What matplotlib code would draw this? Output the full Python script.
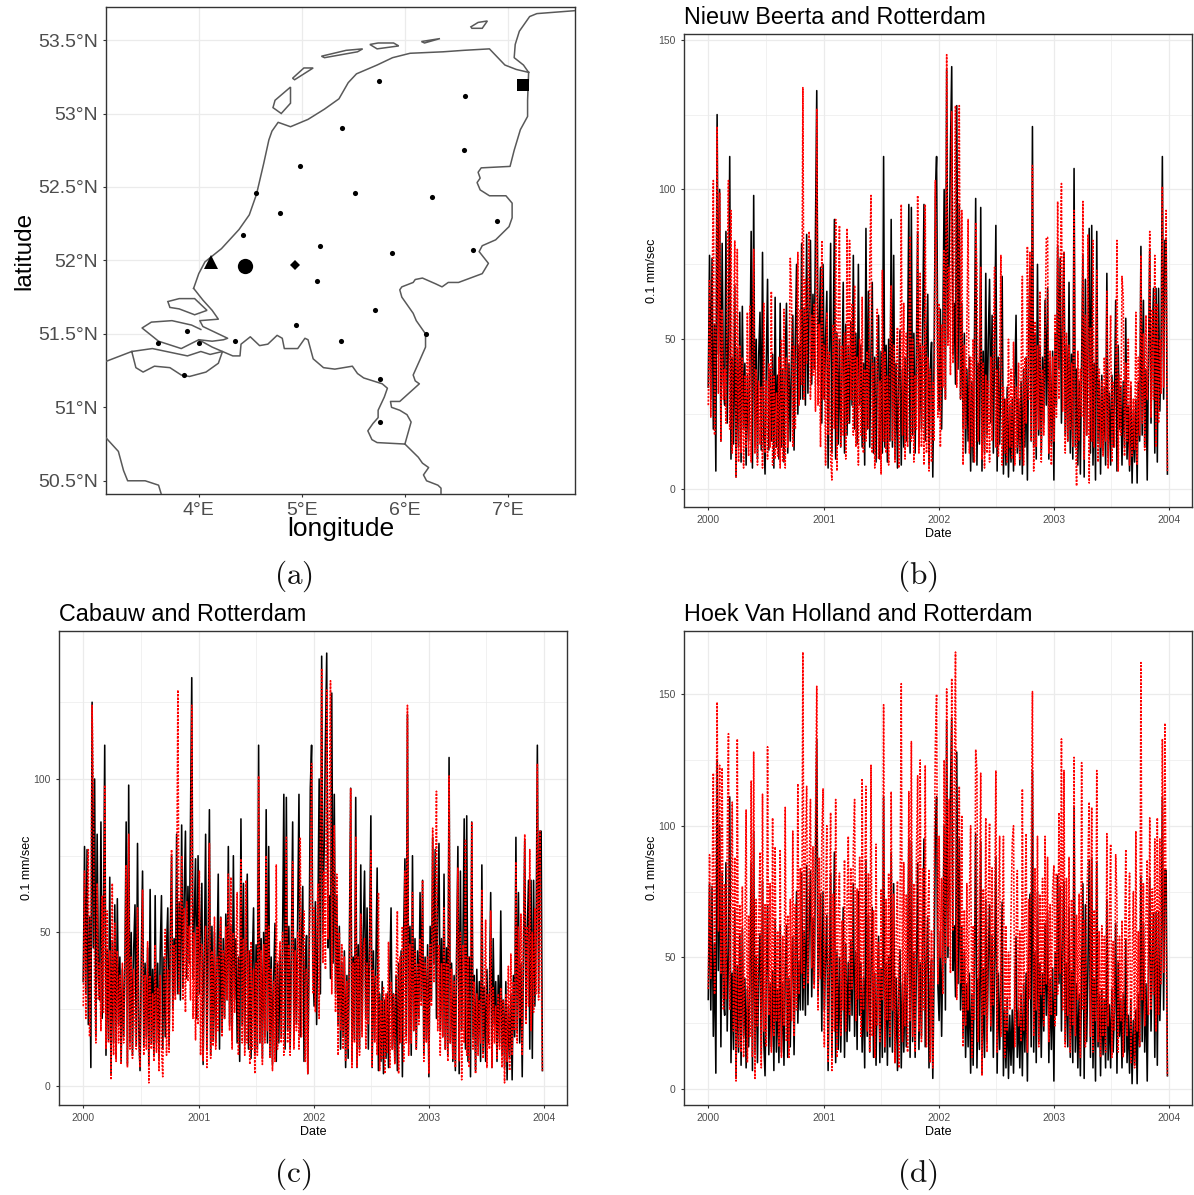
import matplotlib
matplotlib.use('Agg')
import matplotlib.dates as mdates
import matplotlib.pyplot as plt
import pandas as pd

plt.rcParams['font.family'] = ['Liberation Sans', 'DejaVu Sans']
plt.rcParams['mathtext.fontset'] = 'cm'

FIG_W, FIG_H = 1194, 1195

# map outlines, lon / lat
german_coast_lon = [7.65, 7.28, 7.21, 7.11, 7.07, 7.06, 7.15, 7.20]
german_coast_lat = [53.70, 53.68, 53.66, 53.56, 53.47, 53.38, 53.33, 53.28]
west_coast_lon = [3.95, 4.00, 4.06, 4.22, 4.39, 4.49, 4.56, 4.63, 4.68, 4.71, 4.77, 4.89, 5.06, 5.22,
                  5.36, 5.45, 5.53, 5.73, 5.88, 6.05, 6.37, 6.57, 6.82, 6.97, 7.08, 7.20]
west_coast_lat = [51.81, 51.91, 51.99, 52.08, 52.21, 52.31, 52.45, 52.66, 52.82, 52.88, 52.94, 52.91, 52.96, 53.03,
                  53.10, 53.21, 53.27, 53.33, 53.38, 53.41, 53.42, 53.43, 53.44, 53.33, 53.30, 53.28]
east_border_lon = [7.20, 7.19, 7.19, 7.12, 7.06, 7.02, 6.74, 6.71, 6.73, 6.70, 6.73, 6.82, 6.98, 7.04, 7.04, 7.01,
                   6.88, 6.75, 6.72, 6.81, 6.75, 6.52, 6.42, 6.36, 6.30, 6.17, 6.10, 6.08, 5.97, 5.95, 5.97, 6.08,
                   6.11, 6.20, 6.20, 6.15, 6.08, 6.10, 6.14, 5.95, 5.86, 5.87, 5.95, 6.02, 6.06, 6.00]
east_border_lat = [53.28, 53.09, 52.98, 52.89, 52.75, 52.64, 52.63, 52.60, 52.56, 52.53, 52.48, 52.44, 52.44, 52.39,
                   52.29, 52.23, 52.14, 52.10, 52.06, 51.98, 51.91, 51.85, 51.85, 51.82, 51.84, 51.88, 51.87, 51.85,
                   51.82, 51.80, 51.75, 51.64, 51.59, 51.50, 51.41, 51.33, 51.22, 51.18, 51.16, 51.04, 51.04, 51.00,
                   50.98, 50.95, 50.90, 50.75]
de_be_border_lon = [6.00, 6.13, 6.17, 6.23, 6.18, 6.21, 6.32, 6.35, 6.35]
de_be_border_lat = [50.75, 50.66, 50.62, 50.59, 50.54, 50.50, 50.47, 50.45, 50.40]
south_border_lon = [6.00, 5.73, 5.68, 5.64, 5.69, 5.74, 5.74, 5.80, 5.83, 5.78, 5.60, 5.54, 5.49, 5.32, 5.21, 5.11,
                    5.06, 5.03, 4.96, 4.83, 4.81, 4.76, 4.67, 4.59, 4.50, 4.41, 4.40, 4.33, 4.23, 4.13, 4.00, 3.83,
                    3.61, 3.45, 3.54, 3.74, 3.93, 4.02]
south_border_lat = [50.75, 50.76, 50.78, 50.84, 50.89, 50.93, 50.98, 51.07, 51.13, 51.16, 51.20, 51.23, 51.28, 51.26,
                    51.27, 51.33, 51.46, 51.47, 51.40, 51.40, 51.47, 51.49, 51.43, 51.42, 51.48, 51.43, 51.35, 51.35,
                    51.38, 51.41, 51.46, 51.40, 51.45, 51.54, 51.58, 51.59, 51.56, 51.53]
delta_lon = [3.95, 4.04, 4.13, 4.19, 4.01, 4.04, 4.28, 4.24, 4.13, 4.00]
delta_lat = [51.81, 51.73, 51.66, 51.60, 51.59, 51.55, 51.47, 51.46, 51.45, 51.46]
scheldt_lon = [3.09, 3.35, 3.55, 3.89, 4.02, 4.11, 4.23, 4.19, 4.07, 3.91, 3.83, 3.72, 3.57, 3.46, 3.39, 3.35]
scheldt_lat = [51.31, 51.38, 51.40, 51.35, 51.38, 51.36, 51.38, 51.30, 51.24, 51.21, 51.22, 51.27, 51.28, 51.24,
               51.27, 51.38]
france_lon = [3.09, 3.22, 3.27, 3.31, 3.48, 3.61, 3.64]
france_lat = [50.80, 50.70, 50.57, 50.50, 50.50, 50.47, 50.40]
zeeland_lon = [3.45, 3.54, 3.74, 3.93, 4.02, 4.28, 4.24, 4.13, 4.00, 3.83, 3.61]
zeeland_lat = [51.54, 51.58, 51.59, 51.56, 51.53, 51.47, 51.46, 51.45, 51.46, 51.40, 51.45]

island_lons = [
    [3.70, 3.81, 3.96, 4.08, 3.96, 3.81, 3.72, 3.70],
    [4.89, 4.74, 4.72, 4.80, 4.89, 4.89],
    [4.91, 5.02, 5.11, 4.93, 4.91],
    [5.19, 5.43, 5.59, 5.54, 5.22, 5.19],
    [5.66, 5.74, 5.89, 5.94, 5.73, 5.66],
    [6.16, 6.34, 6.19, 6.16],
    [6.64, 6.71, 6.80, 6.75, 6.65, 6.64],
]
island_lats = [
    [51.72, 51.74, 51.74, 51.66, 51.63, 51.67, 51.68, 51.72],
    [53.18, 53.09, 53.04, 53.00, 53.07, 53.18],
    [53.24, 53.31, 53.31, 53.23, 53.24],
    [53.39, 53.43, 53.44, 53.42, 53.38, 53.39],
    [53.47, 53.48, 53.48, 53.46, 53.44, 53.47],
    [53.49, 53.51, 53.48, 53.49],
    [53.59, 53.62, 53.63, 53.58, 53.58, 53.59],
]

station_lon = [5.75, 6.58, 5.39, 6.57, 4.98, 4.56, 5.52, 6.26, 4.79, 6.89, 4.43, 5.18, 5.87, 6.66, 5.15,
               5.71, 4.94, 3.89, 3.60, 4.00, 4.35, 5.38, 6.20, 5.76, 3.86, 5.76]
station_lat = [53.22, 53.12, 52.90, 52.75, 52.64, 52.46, 52.46, 52.43, 52.32, 52.27, 52.17, 52.10, 52.05, 52.07, 51.86,
               51.66, 51.56, 51.52, 51.44, 51.44, 51.45, 51.45, 51.50, 51.19, 51.22, 50.90]
hoek_lonlat = (4.12, 51.99)
rotterdam_lonlat = (4.45, 51.96)
cabauw_lonlat = (4.93, 51.97)
beerta_lonlat = (7.15, 53.195)

lon_ticks = [4, 5, 6, 7]
lon_labels = ['4°E', '5°E', '6°E', '7°E']
lat_ticks = [50.5, 51, 51.5, 52, 52.5, 53, 53.5]
lat_labels = ['50.5°N', '51°N', '51.5°N', '52°N', '52.5°N', '53°N', '53.5°N']

# wind speed read every four days, 0.1 mm/sec
rotterdam = [
    34, 78, 30, 77, 20, 55, 6, 125, 45, 100, 16, 82, 35,
    28, 86, 22, 52, 111, 10, 44, 15, 68, 4, 47, 14, 59,
    9, 61, 20, 42, 8, 38, 16, 40, 86, 7, 98, 14, 50,
    10, 45, 59, 13, 79, 18, 5, 42, 70, 13, 40, 16, 45,
    7, 64, 14, 38, 10, 62, 14, 40, 9, 44, 62, 12, 42,
    16, 45, 58, 13, 50, 75, 25, 48, 30, 82, 30, 60, 28,
    85, 32, 62, 83, 35, 65, 40, 88, 133, 35, 55, 74, 22,
    75, 30, 50, 66, 7, 44, 82, 12, 48, 90, 10, 52, 15,
    50, 14, 40, 69, 12, 55, 18, 48, 22, 56, 28, 78, 20,
    52, 15, 75, 28, 48, 14, 42, 8, 87, 20, 66, 14, 45,
    69, 12, 44, 9, 40, 58, 10, 46, 12, 111, 14, 48, 9,
    50, 16, 90, 14, 78, 10, 42, 7, 36, 53, 8, 40, 14,
    44, 16, 48, 95, 12, 94, 18, 52, 12, 46, 86, 15, 48,
    20, 55, 95, 16, 48, 65, 8, 40, 49, 4, 44, 97, 111,
    40, 26, 60, 20, 55, 100, 30, 140, 50, 78, 113, 141, 45,
    62, 35, 128, 40, 95, 30, 62, 20, 52, 12, 40, 16, 44,
    6, 36, 9, 48, 97, 8, 42, 15, 94, 6, 46, 12, 72,
    18, 50, 70, 22, 58, 12, 48, 88, 6, 44, 15, 40, 71,
    5, 30, 8, 34, 4, 28, 9, 30, 6, 36, 58, 12, 30,
    8, 36, 5, 40, 14, 44, 3, 50, 74, 16, 121, 14, 52,
    10, 75, 18, 48, 12, 44, 22, 63, 28, 67, 10, 42, 15,
    46, 3, 52, 28, 81, 40, 77, 22, 58, 79, 18, 48, 16,
    69, 12, 45, 10, 107, 14, 40, 8, 36, 5, 44, 78, 4,
    70, 18, 46, 87, 12, 88, 8, 42, 3, 86, 16, 36, 5,
    38, 13, 34, 8, 72, 11, 32, 8, 38, 14, 30, 63, 6,
    48, 20, 34, 8, 36, 14, 57, 10, 28, 6, 34, 2, 26,
    9, 30, 2, 36, 16, 81, 18, 63, 14, 40, 3, 44, 80,
    22, 50, 67, 12, 67, 9, 67, 26, 48, 111, 30, 83, 83, 5,
]
nieuw_beerta = [
    28, 70, 24, 62, 103, 18, 50, 121, 32, 99, 16, 60, 30,
    40, 22, 68, 103, 20, 93, 12, 55, 83, 4, 80, 9, 48,
    12, 44, 7, 38, 14, 59, 11, 61, 9, 44, 80, 12, 40,
    8, 36, 15, 34, 7, 62, 12, 36, 10, 42, 14, 66, 8,
    38, 10, 32, 11, 44, 7, 50, 9, 60, 7, 44, 14, 38,
    77, 65, 14, 48, 20, 46, 79, 28, 60, 35, 134, 30, 70,
    42, 66, 86, 30, 58, 38, 62, 26, 127, 28, 55, 14, 83,
    30, 48, 8, 59, 18, 46, 10, 3, 55, 20, 90, 6, 60,
    88, 14, 48, 18, 52, 10, 87, 22, 83, 30, 62, 18, 68,
    14, 44, 8, 50, 18, 64, 12, 40, 16, 46, 20, 75, 98,
    12, 42, 7, 38, 60, 10, 36, 5, 73, 16, 46, 12, 38,
    8, 44, 68, 16, 48, 9, 40, 54, 7, 36, 95, 18, 62,
    10, 52, 14, 44, 84, 16, 50, 9, 38, 20, 98, 12, 72,
    14, 48, 8, 95, 12, 44, 6, 40, 9, 36, 16, 103, 73,
    24, 62, 14, 55, 34, 80, 30, 145, 48, 74, 38, 126, 42,
    88, 128, 34, 70, 128, 30, 93, 8, 48, 20, 54, 90, 12,
    44, 14, 50, 9, 89, 73, 16, 48, 74, 10, 42, 7, 38,
    12, 36, 9, 44, 16, 50, 74, 14, 40, 11, 46, 78, 8,
    34, 12, 30, 9, 50, 14, 40, 10, 49, 8, 34, 14, 42,
    10, 38, 71, 8, 44, 22, 81, 30, 79, 16, 108, 6, 56,
    14, 48, 20, 66, 9, 40, 18, 50, 84, 84, 12, 46, 8,
    44, 16, 58, 24, 96, 30, 70, 102, 26, 79, 12, 52, 16,
    48, 20, 42, 14, 93, 22, 1, 46, 16, 40, 24, 96, 10,
    58, 18, 85, 2, 54, 16, 83, 14, 44, 73, 9, 40, 14,
    36, 11, 44, 16, 66, 7, 40, 58, 9, 36, 14, 32, 83,
    6, 38, 18, 71, 64, 11, 42, 16, 50, 8, 36, 11, 30,
    13, 59, 8, 44, 18, 78, 22, 52, 13, 58, 30, 42, 86,
    24, 60, 30, 78, 14, 62, 22, 50, 32, 101, 34, 66, 93, 6,
]
cabauw = [
    26, 70, 22, 58, 77, 16, 42, 124, 94, 30, 14, 66, 28,
    40, 18, 62, 24, 98, 12, 57, 14, 44, 2, 66, 10, 53,
    8, 44, 14, 36, 7, 40, 14, 36, 72, 6, 82, 12, 42,
    9, 38, 20, 12, 58, 14, 6, 34, 64, 10, 36, 12, 47,
    1, 36, 12, 30, 8, 46, 11, 32, 5, 36, 12, 3, 34,
    51, 10, 38, 11, 42, 77, 18, 46, 28, 60, 129, 30, 56,
    75, 28, 58, 24, 60, 34, 52, 28, 124, 22, 50, 15, 52,
    20, 70, 10, 46, 8, 40, 52, 6, 36, 79, 9, 44, 13,
    55, 12, 42, 18, 48, 55, 16, 44, 22, 52, 28, 69, 18,
    68, 12, 50, 24, 44, 63, 10, 40, 74, 14, 48, 10, 67,
    14, 44, 7, 47, 12, 38, 4, 40, 10, 101, 14, 44, 7,
    46, 14, 75, 18, 52, 9, 38, 5, 34, 8, 72, 12, 40,
    47, 14, 50, 10, 44, 81, 14, 46, 10, 42, 73, 12, 44,
    18, 50, 12, 81, 16, 44, 57, 8, 38, 4, 40, 60, 105,
    30, 58, 24, 48, 66, 22, 80, 136, 40, 70, 38, 129, 48,
    90, 132, 30, 66, 85, 24, 69, 10, 50, 18, 46, 12, 42,
    8, 34, 12, 40, 97, 6, 40, 14, 81, 6, 42, 10, 56,
    16, 44, 48, 12, 40, 20, 42, 77, 6, 38, 14, 36, 10,
    63, 5, 28, 9, 32, 4, 30, 11, 47, 6, 34, 12, 30,
    7, 36, 57, 4, 42, 14, 52, 8, 70, 14, 124, 10, 46,
    14, 63, 18, 44, 12, 40, 20, 48, 26, 67, 8, 40, 14,
    42, 4, 46, 26, 84, 34, 52, 96, 18, 46, 10, 40, 16,
    58, 12, 40, 8, 101, 14, 38, 9, 34, 6, 42, 71, 8,
    50, 2, 46, 14, 80, 10, 42, 6, 36, 86, 12, 34, 4,
    30, 10, 28, 14, 64, 9, 28, 54, 6, 30, 12, 57, 6,
    32, 14, 26, 9, 30, 12, 32, 6, 28, 1, 30, 8, 39,
    5, 43, 10, 34, 18, 73, 14, 52, 22, 56, 10, 48, 82,
    20, 52, 26, 77, 18, 50, 24, 58, 30, 105, 28, 83, 42, 5,
]
hoek_van_holland = [
    38, 89, 42, 72, 120, 36, 85, 147, 60, 123, 44, 122, 30,
    78, 34, 95, 135, 30, 70, 109, 22, 88, 3, 133, 16, 70,
    14, 77, 12, 56, 106, 10, 66, 20, 117, 12, 128, 4, 72,
    24, 64, 90, 8, 112, 22, 70, 16, 130, 28, 78, 14, 103,
    20, 92, 26, 60, 16, 91, 12, 58, 24, 107, 18, 66, 12,
    72, 26, 98, 20, 70, 30, 116, 36, 84, 44, 166, 38, 92,
    115, 40, 84, 110, 46, 92, 38, 102, 153, 30, 88, 42, 96,
    114, 16, 72, 100, 10, 62, 105, 7, 74, 22, 110, 12, 68,
    82, 20, 64, 30, 87, 22, 70, 96, 28, 84, 38, 92, 110,
    26, 76, 34, 88, 20, 118, 30, 72, 115, 22, 82, 14, 123,
    20, 68, 12, 93, 24, 56, 18, 76, 34, 146, 16, 72, 26,
    82, 20, 113, 30, 74, 10, 60, 79, 8, 66, 154, 18, 86,
    24, 74, 14, 113, 26, 132, 20, 78, 14, 88, 119, 22, 125,
    18, 84, 30, 123, 16, 66, 83, 10, 60, 8, 76, 130, 150,
    40, 96, 50, 80, 36, 125, 48, 152, 54, 110, 44, 156, 60,
    112, 166, 34, 82, 115, 40, 104, 16, 68, 24, 78, 30, 72,
    100, 12, 62, 26, 129, 121, 18, 70, 120, 5, 76, 28, 103,
    14, 74, 101, 24, 84, 32, 66, 121, 14, 70, 96, 20, 60,
    96, 12, 62, 22, 52, 30, 66, 94, 100, 16, 58, 83, 24,
    60, 18, 114, 22, 66, 97, 14, 72, 34, 88, 151, 20, 84,
    30, 96, 16, 74, 36, 80, 24, 96, 40, 88, 18, 70, 28,
    76, 85, 24, 82, 36, 105, 44, 133, 30, 121, 16, 80, 28,
    88, 14, 72, 24, 126, 20, 66, 34, 74, 12, 124, 30, 64,
    16, 72, 87, 109, 20, 107, 14, 68, 26, 121, 18, 60, 12,
    62, 20, 58, 14, 97, 24, 64, 93, 12, 56, 22, 89, 71,
    14, 58, 26, 64, 12, 50, 91, 20, 54, 82, 10, 48, 75,
    8, 98, 22, 60, 16, 162, 34, 78, 24, 66, 87, 28, 103,
    30, 76, 36, 95, 22, 103, 28, 95, 40, 133, 44, 139, 60, 5,
]

dates = pd.date_range('2000-01-01', periods=len(rotterdam), freq='4D')


def add_axes_px(fig, left, top, right, bottom):
    return fig.add_axes([left / FIG_W, 1 - bottom / FIG_H,
                         (right - left) / FIG_W, (bottom - top) / FIG_H])


def style_axes(ax, tick_size):
    ax.set_facecolor('white')
    ax.set_axisbelow(True)
    for spine in ax.spines.values():
        spine.set_color('#333333')
        spine.set_linewidth(1.0)
    ax.tick_params(which='major', colors='#333333', labelcolor='#4D4D4D',
                   labelsize=tick_size, length=2.5, width=0.8)
    ax.tick_params(which='minor', length=0)
    ax.grid(True, which='major', color='#EBEBEB', linewidth=0.9)


def plot_series(fig, box, other, title, ylim, yticks, yminor):
    ax = add_axes_px(fig, *box)
    style_axes(ax, 7.5)
    ax.grid(True, which='minor', color='#EBEBEB', linewidth=0.5)
    ax.plot(dates, rotterdam, color='black', linewidth=1.15)
    ax.plot(dates, other, color='#FF0000', linewidth=1.15, linestyle=(0, (1.3, 0.9)))
    ax.set_xlim(pd.Timestamp('1999-10-16'), pd.Timestamp('2004-03-14'))
    ax.set_ylim(*ylim)
    ax.set_yticks(yticks)
    ax.set_yticks(yminor, minor=True)
    ax.xaxis.set_major_locator(mdates.YearLocator())
    ax.xaxis.set_major_formatter(mdates.DateFormatter('%Y'))
    ax.xaxis.set_minor_locator(mdates.MonthLocator(bymonth=[7]))
    ax.set_xlabel('Date', fontsize=9, labelpad=2)
    ax.set_ylabel('0.1 mm/sec', fontsize=9, labelpad=0.5)
    ax.set_title(title, loc='left', fontsize=16.8, pad=7)
    return ax


def plot_map(fig):
    ax = add_axes_px(fig, 106, 7, 575, 494)
    style_axes(ax, 14)
    xlim = (3.10, 7.65)
    ylim = (50.41, 53.725)

    # land is filled white so the grid only shows over the sea
    land_lon = (german_coast_lon + west_coast_lon[::-1] + delta_lon + [3.83, 3.61, 3.35, 3.09]
                + [3.0, 7.8, 7.8])
    land_lat = (german_coast_lat + west_coast_lat[::-1] + delta_lat + [51.40, 51.45, 51.38, 51.31]
                + [50.2, 50.2, 53.70])
    ax.fill(land_lon, land_lat, color='white', zorder=2)
    ax.fill(zeeland_lon, zeeland_lat, color='white', zorder=2)

    outlines = [
        (german_coast_lon, german_coast_lat),
        (west_coast_lon, west_coast_lat),
        (east_border_lon, east_border_lat),
        (de_be_border_lon, de_be_border_lat),
        (south_border_lon, south_border_lat),
        (delta_lon, delta_lat),
        (scheldt_lon, scheldt_lat),
        (france_lon, france_lat),
    ]
    for lon, lat in outlines:
        ax.plot(lon, lat, color='#595959', linewidth=1.1, zorder=3)
    for lon, lat in zip(island_lons, island_lats):
        ax.fill(lon, lat, facecolor='white', edgecolor='#595959', linewidth=1.1, zorder=3)

    ax.plot(station_lon, station_lat, 'o', color='black', markersize=3.7, markeredgewidth=0, zorder=4)
    ax.plot(*hoek_lonlat, '^', color='black', markersize=9.5, markeredgewidth=0, zorder=4)
    ax.plot(*rotterdam_lonlat, 'o', color='black', markersize=11, markeredgewidth=0, zorder=4)
    ax.plot(*cabauw_lonlat, 'D', color='black', markersize=5, markeredgewidth=0, zorder=4)
    ax.plot(*beerta_lonlat, 's', color='black', markersize=8, markeredgewidth=0, zorder=4)

    ax.set_xlim(*xlim)
    ax.set_ylim(*ylim)
    ax.set_xticks(lon_ticks, lon_labels)
    ax.set_yticks(lat_ticks, lat_labels)
    ax.set_xlabel('longitude', fontsize=19, labelpad=-1.5)
    ax.set_ylabel('latitude', fontsize=17.5, labelpad=2)
    return ax


def main():
    fig = plt.figure(figsize=(FIG_W / 100, FIG_H / 100), dpi=100)

    plot_map(fig)
    plot_series(fig, (684, 34, 1192, 507), nieuw_beerta, 'Nieuw Beerta and Rotterdam',
                (-6, 151.9), [0, 50, 100, 150], [25, 75, 125])
    plot_series(fig, (59, 631, 567, 1105), cabauw, 'Cabauw and Rotterdam',
                (-6.2, 148.2), [0, 50, 100], [25, 75, 125])
    plot_series(fig, (684, 631, 1192, 1105), hoek_van_holland, 'Hoek Van Holland and Rotterdam',
                (-6.1, 174), [0, 50, 100, 150], [25, 75, 125])

    for label, x, y in [('a', 293, 576), ('b', 917, 576), ('c', 293, 1174), ('d', 917, 1174)]:
        fig.text(x / FIG_W, 1 - y / FIG_H, rf'$\mathrm{{({label})}}$', fontsize=22.5,
                 ha='center', va='center', color='#111111')

    fig.savefig('out.png', dpi=100, facecolor='white')
    plt.close(fig)


if __name__ == '__main__':
    main()
